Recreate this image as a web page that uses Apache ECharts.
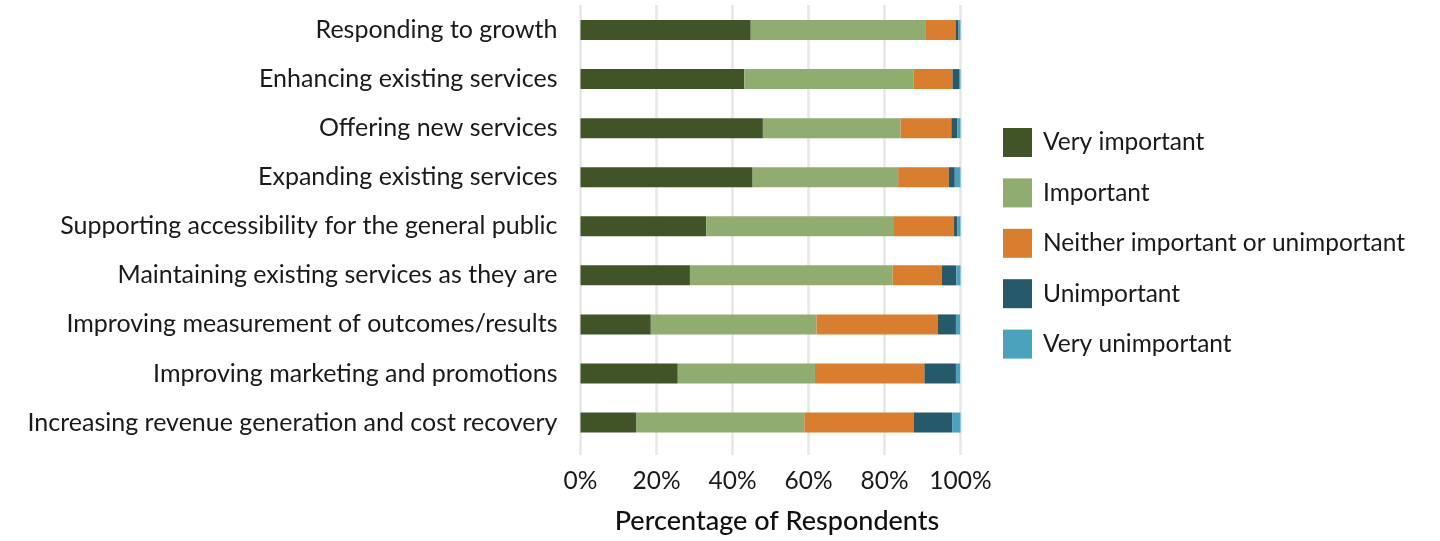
<!DOCTYPE html>
<html>
<head>
<meta charset="utf-8">
<script src="https://cdn.jsdelivr.net/npm/echarts@6/dist/echarts.min.js"></script>
<style>
  html, body { margin: 0; padding: 0; background: #ffffff; }
  #chart { width: 1440px; height: 541px; }
</style>
</head>
<body>
<div id="chart"></div>
<script>
// Survey priorities: share of respondents per importance rating (percent)
const categories = [
  'Responding to growth',
  'Enhancing existing services',
  'Offering new services',
  'Expanding existing services',
  'Supporting accessibility for the general public',
  'Maintaining existing services as they are',
  'Improving measurement of outcomes/results',
  'Improving marketing and promotions',
  'Increasing revenue generation and cost recovery'
];
const veryImportant   = [44.8, 43.1, 48.0, 45.3, 33.1, 28.8, 18.5, 25.6, 14.6];
const important       = [46.1, 44.6, 36.2, 38.3, 49.4, 53.3, 43.6, 36.1, 44.3];
const neither         = [ 7.8, 10.2, 13.4, 13.3, 15.8, 13.0, 31.9, 28.8, 28.8];
const unimportant     = [ 0.8,  1.7,  1.6,  1.6,  0.9,  3.8,  4.8,  8.3, 10.1];
const veryUnimportant = [ 0.5,  0.4,  0.8,  1.5,  0.8,  1.1,  1.1,  1.1,  2.2];
const xTicks = [0, 20, 40, 60, 80, 100];

const seriesNames = ['Very important', 'Important', 'Neither important or unimportant', 'Unimportant', 'Very unimportant'];
const seriesData = [veryImportant, important, neither, unimportant, veryUnimportant];
const colors = ['#415427', '#91ac70', '#d97e2f', '#265a6a', '#4ba2bd'];

const FONT = 'Lato';
const chart = echarts.init(document.getElementById('chart'), null, { renderer: 'canvas' });

chart.setOption({
  animation: false,
  color: colors,
  textStyle: { fontFamily: FONT, color: '#1a1a1a' },
  legend: {
    orient: 'vertical',
    left: 1003,
    top: 128,
    padding: 0,
    itemWidth: 29,
    itemHeight: 29,
    itemGap: 21.4,
    icon: 'rect',
    selectedMode: false,
    data: seriesNames,
    textStyle: { fontFamily: FONT, fontSize: 24.5, color: '#1a1a1a', padding: [0, 0, 0, 6] }
  },
  grid: [
    // bars
    { left: 580.5, width: 380, top: 5.5, height: 441.6, containLabel: false },
    // percentage axis with gridlines
    { left: 580.5, width: 380, top: 5, height: 450, containLabel: false }
  ],
  xAxis: [
    { gridIndex: 0, type: 'value', min: 0, max: 100, show: false },
    {
      gridIndex: 1, type: 'value', min: 0, max: 100, interval: 20,
      axisLine: { show: false },
      axisTick: { show: false },
      splitLine: { show: true, lineStyle: { color: '#e6e6e6', width: 2.5 } },
      axisLabel: {
        formatter: v => xTicks.includes(v) ? v + '%' : '',
        fontFamily: FONT, fontSize: 24.5, color: '#1a1a1a', margin: 14
      },
      name: 'Percentage of Respondents',
      nameLocation: 'middle',
      nameGap: 53,
      nameTextStyle: {
        fontFamily: FONT, fontSize: 27, color: '#111111', fontWeight: 500,
        padding: [0, 0, 0, 13]
      }
    }
  ],
  yAxis: [
    {
      gridIndex: 0, type: 'category', data: categories, inverse: true,
      axisLine: { show: false },
      axisTick: { show: false },
      splitLine: { show: false },
      axisLabel: { fontFamily: FONT, fontSize: 25, color: '#1a1a1a', margin: 23, padding: [2, 0, 0, 0] }
    },
    { gridIndex: 1, type: 'value', show: false, min: 0, max: 1 }
  ],
  series: seriesNames.map((name, i) => ({
    name,
    type: 'bar',
    stack: 'total',
    xAxisIndex: 0,
    yAxisIndex: 0,
    barWidth: 20,
    data: seriesData[i],
    itemStyle: { color: colors[i] },
    emphasis: { disabled: true }
  }))
});
</script>
</body>
</html>
